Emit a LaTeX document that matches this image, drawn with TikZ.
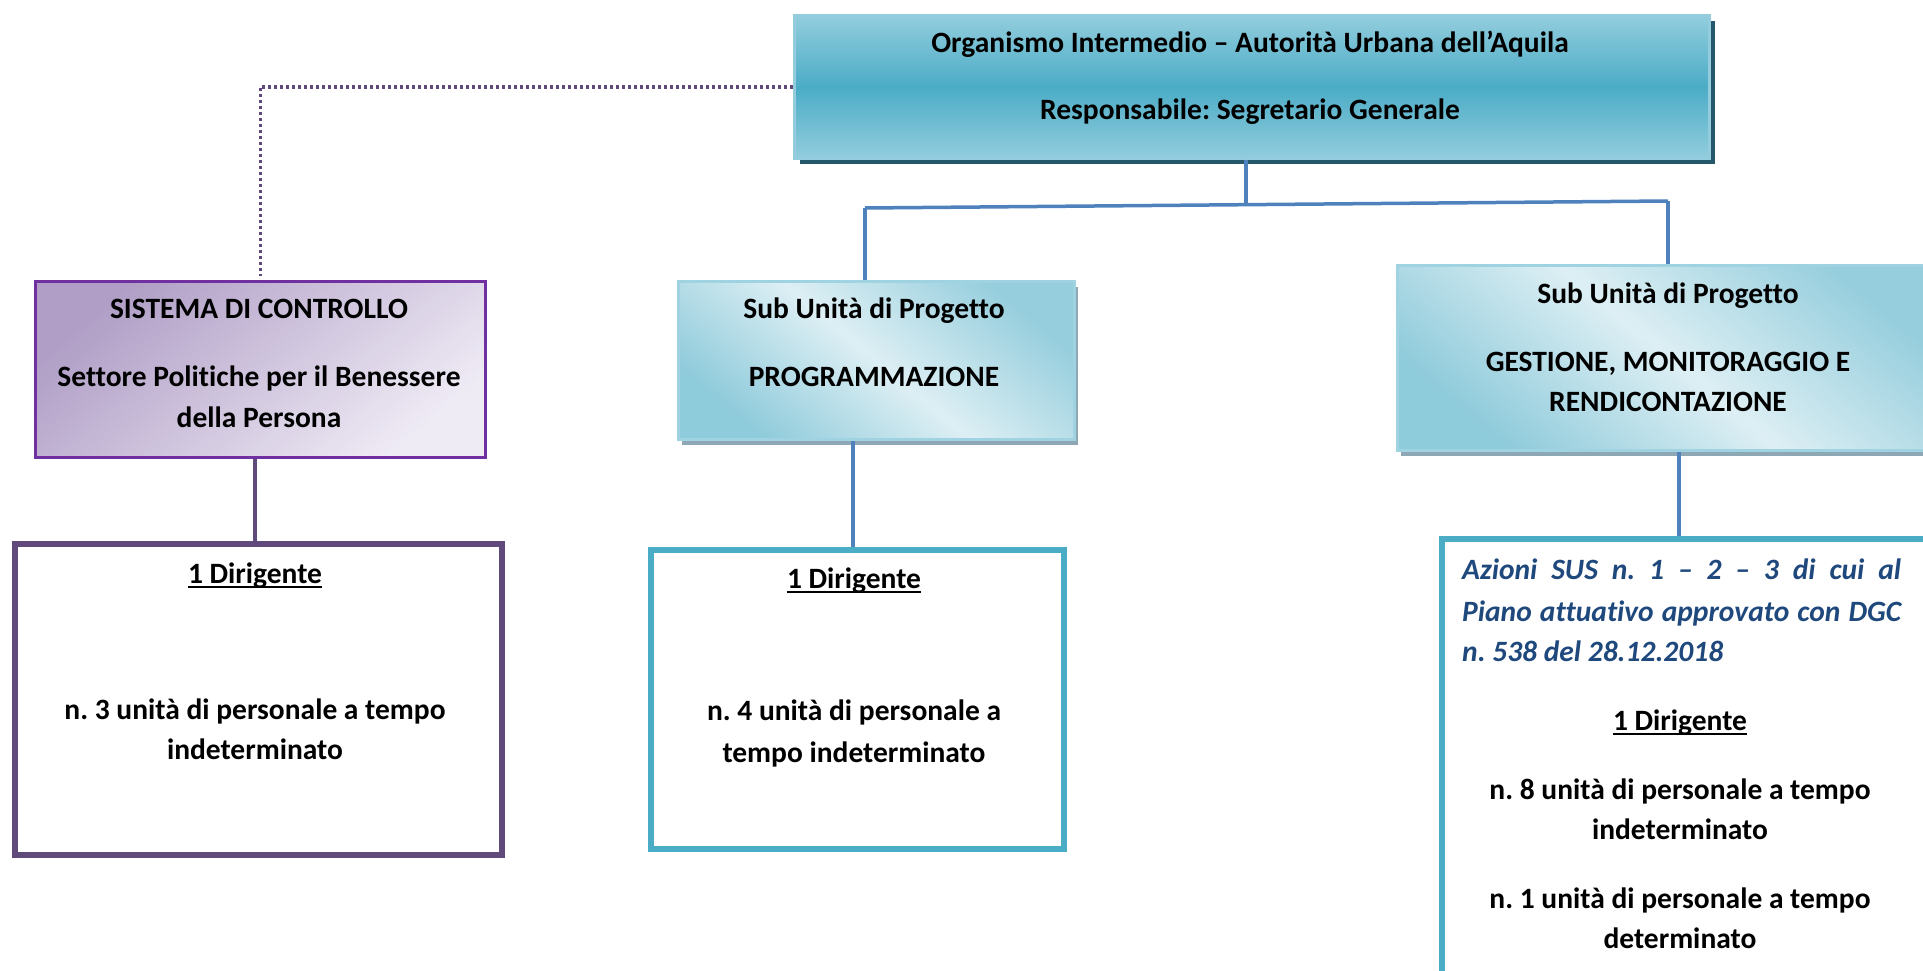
\documentclass[tikz,border=0pt]{standalone}
\usepackage{fontspec}
\setmainfont{Carlito}[Ligatures=NoCommon]
\frenchspacing
\usetikzlibrary{shadows}
\definecolor{tealA}{HTML}{93CDDD}
\definecolor{tealB}{HTML}{4BACC6}
\definecolor{tealLine}{HTML}{4BACC6}
\definecolor{shadowTop}{HTML}{24586A}
\definecolor{subLight}{HTML}{DDEFF4}
\definecolor{subDark}{HTML}{96CEDD}
\definecolor{subLine}{HTML}{9FD3E1}
\definecolor{subShadow}{HTML}{8DA7B4}
\definecolor{purpD}{HTML}{B09EC6}
\definecolor{purpL}{HTML}{EFEBF5}
\definecolor{purpLine}{HTML}{7030A0}
\definecolor{plum}{HTML}{604A7B}
\definecolor{conBlue}{HTML}{4F81BD}
\definecolor{ital}{HTML}{1F497D}
\tikzset{
  boxbase/.style={rectangle, anchor=north west, inner sep=0pt},
  topbox/.style={boxbase, draw=tealA, line width=3pt, top color=tealA, bottom color=tealA, middle color=tealB,
    drop shadow={shadow xshift=5pt, shadow yshift=-6pt, fill=shadowTop, opacity=1}},
  subbox/.style={boxbase, draw=subLine, line width=3pt, shading=axis, top color=subDark, bottom color=subDark!90!tealB, middle color=subLight, shading angle=-40,
    drop shadow={shadow xshift=3pt, shadow yshift=-5pt, fill=subShadow, opacity=1}},
  sisbox/.style={boxbase, draw=purpLine, line width=2.5pt, shading=axis, top color=purpD, bottom color=purpL, shading angle=40},
  staffpurple/.style={boxbase, draw=plum, line width=6pt, fill=white},
  staffblue/.style={boxbase, draw=tealLine, line width=6pt, fill=white},
  txt/.style={font=\fontsize{29.5}{35}\selectfont\bfseries, anchor=base, inner sep=0pt},
  itxt/.style={font=\fontsize{29.5}{35}\selectfont\bfseries\itshape, text=ital, anchor=base west, inner sep=0pt},
  bluecon/.style={draw=conBlue, line width=3.5pt},
  purplecon/.style={draw=plum, line width=4pt},
  dotcon/.style={draw=plum, line width=3.5pt, dash pattern=on 3pt off 3pt},
  uline/.style={line width=1.6pt}
}
\begin{document}
\begin{tikzpicture}[x=1pt,y=-1pt]
\useasboundingbox (0,0) rectangle (1923,971);
\clip (0,0) rectangle (1923,971);

% boxes
\node[topbox, minimum width=915pt, minimum height=143pt] (top) at (793,14) {};
\node[sisbox, minimum width=450pt, minimum height=176pt] (sis) at (34,280) {};
\node[subbox, minimum width=396pt, minimum height=158pt] (prog) at (677,280) {};
\node[subbox, minimum width=546pt, minimum height=185pt] (gest) at (1396,264) {};
\node[staffpurple, minimum width=487pt, minimum height=311pt] (dl) at (12,541) {};
\node[staffblue, minimum width=413pt, minimum height=299pt] (mb) at (648,547) {};
\node[staffblue, minimum width=496pt, minimum height=450pt] (rb) at (1439,536) {};

% connectors
\coordinate (j0) at (1246,205);
\coordinate (jl) at (865,208);
\coordinate (jr) at (1668,201);
\coordinate (xr) at (1679,0);
\coordinate (xl) at (255,0);
\coordinate (xm) at (853,0);
\draw[bluecon] (top.south -| j0) -- (j0);
\draw[bluecon] (jl) -- (jr);
\draw[bluecon] (jl) -- (jl |- prog.north);
\draw[bluecon] (jr) -- (jr |- gest.north);
\draw[bluecon] (prog.south -| xm) -- (mb.north -| xm);
\draw[bluecon] (gest.south -| xr) -- (rb.north -| xr);
\draw[purplecon] (sis.south -| xl) -- (dl.north -| xl);
\draw[dotcon] (top.west) -| ([yshift=4pt]sis.north);

% texts top
\node[txt] (t1) at (1250,53) {Organismo Intermedio – Autorità Urbana dell’Aquila};
\node[txt] (t2) at (1250,120) {Responsabile: Segretario Generale};

% sistema
\node[txt] (s1) at (259,318) {SISTEMA DI CONTROLLO};
\node[txt] (s2) at (259,386) {Settore Politiche per il Benessere};
\node[txt] (s3) at (259,427) {della Persona};

% left staff
\node[txt] (d1) at (255,583) {1 Dirigente};
\draw[uline] ([yshift=-4pt]d1.base west) -- ([yshift=-4pt]d1.base east);
\node[txt] (d2) at (255,719) {n. 3 unità di personale a tempo};
\node[txt] (d3) at (255,759) {indeterminato};

% programmazione
\node[txt] (p1) at (874,318) {Sub Unità di Progetto};
\node[txt] (p2) at (874,386) {PROGRAMMAZIONE};

% middle staff
\node[txt] (m1) at (854,588) {1 Dirigente};
\draw[uline] ([yshift=-4pt]m1.base west) -- ([yshift=-4pt]m1.base east);
\node[txt] (m2) at (854,720) {n. 4 unità di personale a};
\node[txt] (m3) at (854,762) {tempo indeterminato};

% gestione
\node[txt] (g1) at (1668,303) {Sub Unità di Progetto};
\node[txt] (g2) at (1668,371) {GESTIONE, MONITORAGGIO E};
\node[txt] (g3) at (1668,411) {RENDICONTAZIONE};

% right staff
\node[itxt] (i1) at (1462,579) {\makebox[439pt][s]{Azioni SUS n. 1 – 2 – 3 di cui al}};
\node[itxt] (i2) at (1462,621) {\makebox[439pt][s]{Piano attuativo approvato con DGC}};
\node[itxt] (i3) at (1462,661) {n. 538 del 28.12.2018};
\node[txt] (r1) at (1680,730) {1 Dirigente};
\draw[uline] ([yshift=-4pt]r1.base west) -- ([yshift=-4pt]r1.base east);
\node[txt] (r2) at (1680,799) {n. 8 unità di personale a tempo};
\node[txt] (r3) at (1680,839) {indeterminato};
\node[txt] (r4) at (1680,908) {n. 1 unità di personale a tempo};
\node[txt] (r5) at (1680,948) {determinato};
\end{tikzpicture}
\end{document}
